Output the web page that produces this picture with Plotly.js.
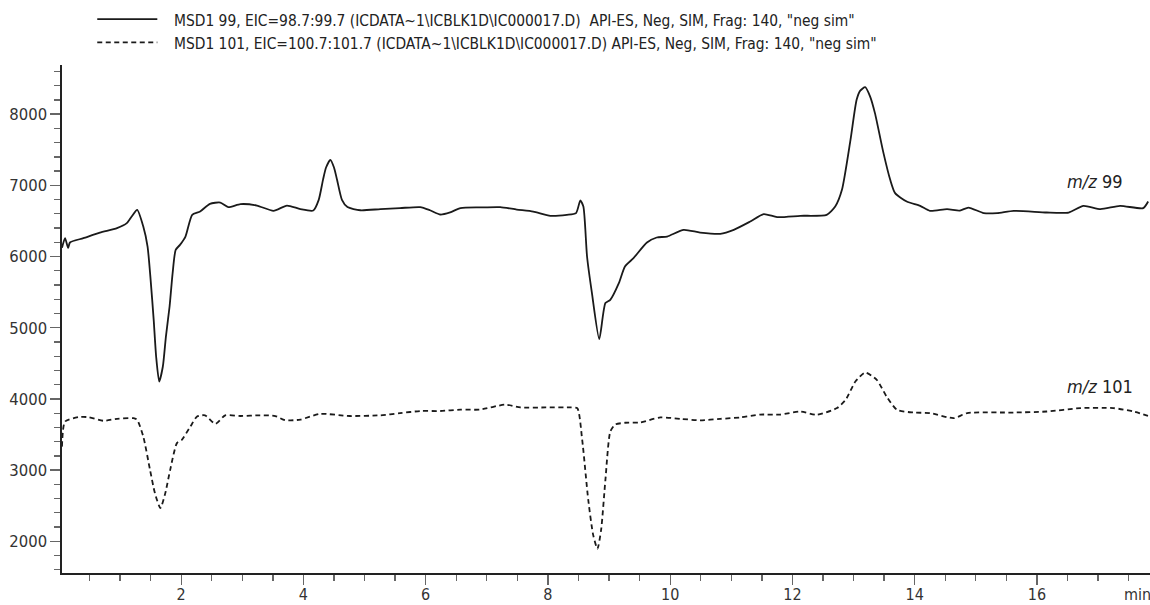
<!DOCTYPE html>
<html>
<head>
<meta charset="utf-8">
<script src="https://cdn.plot.ly/plotly-3.0.1.min.js"></script>
<style>html,body{margin:0;padding:0;background:#fff;}#chart{width:1150px;height:605px;}</style>
</head>
<body>
<div id="chart"></div>
<script>
// Retention time (min) and abundance for m/z 99 (solid)
const time99 = [0.05,0.10,0.15,0.18,0.40,0.67,0.95,1.11,1.19,1.28,1.38,1.45,1.50,1.55,1.59,1.64,1.70,1.75,1.81,1.86,1.91,1.98,2.07,2.18,2.31,2.47,2.64,2.77,2.97,3.24,3.51,3.73,3.95,4.16,4.25,4.32,4.37,4.44,4.50,4.55,4.63,4.72,4.93,5.26,5.58,5.91,6.07,6.24,6.40,6.57,6.89,7.22,7.49,7.76,8.04,8.31,8.46,8.53,8.58,8.64,8.72,8.84,8.94,9.02,9.16,9.26,9.40,9.62,9.78,9.95,10.22,10.49,10.82,11.04,11.31,11.53,11.75,12.13,12.56,12.70,12.81,12.95,13.05,13.11,13.19,13.27,13.35,13.49,13.60,13.68,13.87,14.09,14.25,14.53,14.74,14.88,15.13,15.35,15.62,16.16,16.52,16.76,17.04,17.36,17.74,17.82];
const abund99 = [6122,6258,6122,6197,6258,6337,6399,6469,6562,6656,6421,6140,5673,5111,4596,4244,4455,4876,5298,5767,6094,6164,6281,6586,6632,6740,6758,6694,6736,6716,6642,6716,6666,6646,6796,7077,7250,7358,7250,7077,6796,6694,6650,6666,6680,6694,6650,6590,6620,6680,6690,6694,6660,6632,6572,6586,6610,6788,6702,6000,5486,4840,5346,5392,5626,5860,5978,6197,6267,6281,6375,6337,6319,6375,6492,6596,6554,6572,6586,6702,6937,7639,8201,8330,8379,8250,8014,7452,7077,6890,6772,6712,6642,6666,6646,6688,6610,6610,6642,6618,6618,6712,6666,6712,6680,6772];

// Retention time (min) and abundance for m/z 101 (dashed)
const time101 = [0.05,0.10,0.32,0.48,0.73,0.95,1.22,1.28,1.38,1.49,1.57,1.66,1.74,1.82,1.93,2.01,2.15,2.26,2.39,2.56,2.72,2.97,3.29,3.54,3.70,3.95,4.27,4.76,5.26,5.58,5.91,6.24,6.57,6.89,7.30,7.55,7.96,8.36,8.48,8.56,8.66,8.74,8.81,8.87,8.94,9.02,9.10,9.26,9.51,9.84,10.17,10.49,10.82,11.15,11.47,11.80,12.13,12.40,12.73,12.87,13.03,13.19,13.38,13.54,13.71,13.98,14.25,14.64,14.86,15.62,16.16,16.71,17.25,17.58,17.85];
const abund101 = [3330,3683,3744,3744,3693,3721,3730,3706,3472,3004,2677,2466,2677,3004,3379,3426,3612,3753,3770,3650,3770,3760,3770,3760,3700,3710,3790,3760,3770,3800,3830,3830,3850,3850,3920,3880,3880,3880,3870,3430,2580,2090,1895,2160,2860,3540,3640,3665,3670,3740,3720,3700,3720,3740,3780,3780,3823,3777,3871,3987,4244,4371,4268,4034,3847,3809,3801,3730,3801,3809,3823,3871,3871,3823,3753];

const legendLabels = [
  'MSD1 99, EIC=98.7:99.7 (ICDATA~1\\ICBLK1D\\IC000017.D)  API-ES, Neg, SIM, Frag: 140, "neg sim"',
  'MSD1 101, EIC=100.7:101.7 (ICDATA~1\\ICBLK1D\\IC000017.D) API-ES, Neg, SIM, Frag: 140, "neg sim"'
];
const traceLabels = ['<i>m/z</i> 99', '<i>m/z</i> 101'];
const xTickVals = [2,4,6,8,10,12,14,16];
const yTickVals = [2000,3000,4000,5000,6000,7000,8000];

const FONT = '"Liberation Sans Narrow", "DejaVu Sans Condensed", "Arial Narrow", sans-serif';
const INK = '#1a1a1a';

const traces = [
  {x: time99, y: abund99, type: 'scatter', mode: 'lines', name: legendLabels[0],
   line: {color: INK, width: 1.8, shape: 'spline', smoothing: 0.6}, showlegend: false, hoverinfo: 'x+y'},
  {x: time101, y: abund101, type: 'scatter', mode: 'lines', name: legendLabels[1],
   line: {color: INK, width: 1.8, dash: '5px,3.5px', shape: 'spline', smoothing: 0.6}, showlegend: false, hoverinfo: 'x+y'}
];

const layout = {
  width: 1150, height: 605,
  margin: {l: 62, r: 0, t: 65, b: 32},
  paper_bgcolor: '#fff', plot_bgcolor: '#fff',
  font: {family: FONT, size: 16, color: '#333'},
  xaxis: {
    range: [0.05, 17.85], showgrid: false, zeroline: false,
    showline: true, linecolor: '#222', linewidth: 1.6,
    tickmode: 'array', tickvals: xTickVals, ticktext: xTickVals.map(String),
    ticks: 'outside', ticklen: 10, tickwidth: 1.3, tickcolor: '#666',
    ticklabelstandoff: -4,
    minor: {dtick: 0.5, tick0: 0, ticks: 'outside', ticklen: 6, tickwidth: 1.3, tickcolor: '#666', showgrid: false},
    tickfont: {family: FONT, size: 16, color: '#333'}
  },
  yaxis: {
    range: [1555, 8690], showgrid: false, zeroline: false,
    showline: true, linecolor: '#222', linewidth: 1.6,
    tickmode: 'array', tickvals: yTickVals, ticktext: yTickVals.map(String),
    ticks: 'outside', ticklen: 10, tickwidth: 1.3, tickcolor: '#666',
    minor: {dtick: 200, tick0: 0, ticks: 'outside', ticklen: 6, tickwidth: 1.3, tickcolor: '#666', showgrid: false},
    tickfont: {family: FONT, size: 16.5, color: '#333'}
  },
  shapes: [
    {type: 'line', xref: 'paper', yref: 'paper', x0: 0.0324, x1: 0.0876, y0: 1.0903, y1: 1.0903,
     line: {color: INK, width: 1.8}},
    {type: 'line', xref: 'paper', yref: 'paper', x0: 0.0324, x1: 0.0876, y0: 1.0445, y1: 1.0445,
     line: {color: INK, width: 1.8, dash: '5px,3.5px'}}
  ],
  annotations: [
    {text: legendLabels[0], xref: 'paper', yref: 'paper', x: 0.1014, y: 1.0865, xanchor: 'left', yanchor: 'middle', showarrow: false, font: {family: FONT, size: 15.4, color: '#222'}},
    {text: legendLabels[1], xref: 'paper', yref: 'paper', x: 0.1014, y: 1.0413, xanchor: 'left', yanchor: 'middle', showarrow: false, font: {family: FONT, size: 15.4, color: '#222'}},
    {text: traceLabels[0], xref: 'x', yref: 'y', x: 16.46, y: 7053, xanchor: 'left', yanchor: 'middle', showarrow: false, font: {family: FONT, size: 18, color: '#222'}},
    {text: traceLabels[1], xref: 'x', yref: 'y', x: 16.46, y: 4170, xanchor: 'left', yanchor: 'middle', showarrow: false, font: {family: FONT, size: 18, color: '#222'}},
    {text: 'min', xref: 'x', yref: 'paper', x: 17.64, y: 0, yshift: -10, xanchor: 'center', yanchor: 'top', showarrow: false, font: {family: FONT, size: 16, color: '#333'}}
  ]
};

Plotly.newPlot('chart', traces, layout, {displayModeBar: false, staticPlot: true});
</script>
</body>
</html>
